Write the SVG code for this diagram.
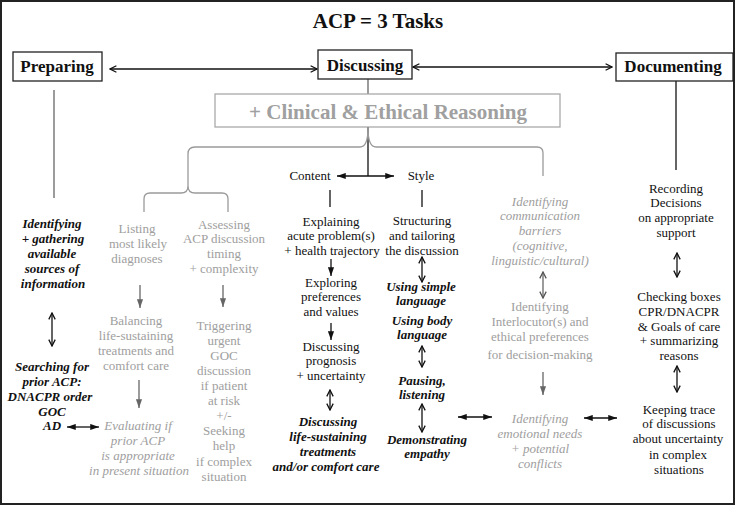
<svg xmlns="http://www.w3.org/2000/svg" width="736" height="507" viewBox="0 0 736 507" font-family="Liberation Serif">
<defs>
<marker id="ob" viewBox="0 0 10 10" refX="9" refY="5" markerWidth="8" markerHeight="8" markerUnits="userSpaceOnUse" orient="auto-start-reverse"><path d="M1,1 L9,5 L1,9" fill="none" stroke="#111" stroke-width="1.6"/></marker>
<marker id="og" viewBox="0 0 10 10" refX="9" refY="5" markerWidth="8" markerHeight="8" markerUnits="userSpaceOnUse" orient="auto-start-reverse"><path d="M1,1 L9,5 L1,9" fill="none" stroke="#555" stroke-width="1.6"/></marker>
<marker id="fb" viewBox="0 0 10 8" refX="10" refY="4" markerWidth="9" markerHeight="7" markerUnits="userSpaceOnUse" orient="auto-start-reverse"><path d="M0,0.5 L10,4 L0,7.5 z" fill="#111"/></marker>
<marker id="fg" viewBox="0 0 10 8" refX="10" refY="4" markerWidth="9" markerHeight="7" markerUnits="userSpaceOnUse" orient="auto-start-reverse"><path d="M0,0.5 L10,4 L0,7.5 z" fill="#666"/></marker>
</defs>
<rect x="1" y="1" width="733" height="503" fill="#fff" stroke="#222" stroke-width="2"/>
<text x="378" y="28" font-family="Times New Roman" font-size="21" font-weight="bold" fill="#111" text-anchor="middle">ACP = 3 Tasks</text>

<g id="connectors" fill="none" stroke-width="1.3">
<g stroke="#111">
<line x1="110" y1="69" x2="317" y2="69" marker-start="url(#ob)" marker-end="url(#ob)"/>
<line x1="413" y1="67" x2="612" y2="67" marker-start="url(#ob)" marker-end="url(#ob)"/>
<line x1="368" y1="127" x2="368" y2="176"/>
<line x1="337" y1="176" x2="394" y2="176" marker-start="url(#fb)" marker-end="url(#fb)"/>
<line x1="676" y1="81" x2="676" y2="170"/>
<line x1="330" y1="190" x2="330" y2="207"/>
<line x1="422" y1="190" x2="422" y2="207"/>
<line x1="52" y1="313" x2="52" y2="346" marker-start="url(#ob)" marker-end="url(#ob)"/>
<line x1="330" y1="390" x2="330" y2="410" marker-start="url(#ob)" marker-end="url(#ob)"/>
<line x1="422" y1="257" x2="422" y2="282" marker-start="url(#ob)" marker-end="url(#ob)"/>
<line x1="422" y1="346" x2="422" y2="367" marker-start="url(#ob)" marker-end="url(#ob)"/>
<line x1="422" y1="404" x2="422" y2="432" marker-start="url(#ob)" marker-end="url(#ob)"/>
<line x1="677" y1="253" x2="677" y2="277" marker-start="url(#ob)" marker-end="url(#ob)"/>
<line x1="677" y1="366" x2="677" y2="392" marker-start="url(#ob)" marker-end="url(#ob)"/>
<line x1="67" y1="427" x2="99" y2="427" marker-start="url(#fb)" marker-end="url(#fb)"/>
<line x1="458" y1="417" x2="492" y2="417" marker-start="url(#fb)" marker-end="url(#fb)"/>
<line x1="584" y1="418" x2="617" y2="418" marker-start="url(#fb)" marker-end="url(#fb)"/>
<line x1="331" y1="259" x2="331" y2="276" marker-end="url(#fb)"/>
<line x1="331" y1="323" x2="331" y2="340" marker-end="url(#fb)"/>
</g>
<g stroke="#666">
<line x1="368" y1="79" x2="368" y2="94"/>
<line x1="54" y1="90" x2="54" y2="198"/>
<line x1="543" y1="272" x2="543" y2="298" marker-start="url(#og)" marker-end="url(#og)"/>
<line x1="140" y1="285" x2="140" y2="308" marker-end="url(#fg)"/>
<line x1="139" y1="380" x2="139" y2="408" marker-end="url(#fg)"/>
<line x1="223" y1="285" x2="223" y2="307" marker-end="url(#fg)"/>
<line x1="543" y1="372" x2="543" y2="395" marker-end="url(#fg)"/>
</g>
<g stroke="#9a9a9a">
<path d="M368,128 Q368,147 360,147 L195,147 Q188,147 188,154 L188,186 Q188,193 181,193 L150,193 Q144,193 144,199 L144,212 M188,186 Q188,193 195,193 L222,193 Q228,193 228,199 L228,212"/>
<path d="M368,128 Q368,147 376,147 L537,147 Q543,147 543,153 L543,176"/>
</g>
</g>

<g id="preparing"><rect x="13" y="52" width="89" height="29" fill="#fff" stroke="#222" stroke-width="1.3"/><text x="57" y="72" font-family="Times New Roman" font-size="17" font-weight="bold" fill="#111" text-anchor="middle">Preparing</text></g>
<g id="discussing"><rect x="318" y="50" width="94" height="29" fill="#fff" stroke="#222" stroke-width="1.3"/><text x="365" y="71" font-family="Times New Roman" font-size="17" font-weight="bold" fill="#111" text-anchor="middle">Discussing</text></g>
<g id="documenting"><rect x="616" y="53" width="117" height="28" fill="#fff" stroke="#222" stroke-width="1.3"/><text x="673" y="72" font-family="Times New Roman" font-size="17" font-weight="bold" fill="#111" text-anchor="middle">Documenting</text></g>
<g id="reasoning"><rect x="215" y="94" width="345" height="33" fill="#fff" stroke="#aaa" stroke-width="1.3"/><text x="388" y="119" font-family="Times New Roman" font-size="21" font-weight="bold" fill="#a0a0a0" text-anchor="middle">+ Clinical &amp; Ethical Reasoning</text></g>

<g font-size="13" text-anchor="middle" font-family="Times New Roman">
<g fill="#111">
<g id="content"><text x="310" y="180">Content</text></g>
<g id="style"><text x="421" y="180">Style</text></g>
<g id="explaining"><text x="331" y="226">Explaining</text><text x="331" y="240">acute problem(s)</text><text x="332" y="255">+ health trajectory</text></g>
<g id="exploring"><text x="331" y="287">Exploring</text><text x="331" y="301">preferences</text><text x="331" y="316">and values</text></g>
<g id="prognosis"><text x="331" y="351">Discussing</text><text x="331" y="365">prognosis</text><text x="331" y="380">+ uncertainty</text></g>
<g id="structuring"><text x="422" y="225">Structuring</text><text x="422" y="240">and tailoring</text><text x="422" y="255">the discussion</text></g>
<g id="recording"><text x="676" y="193">Recording</text><text x="676" y="207">Decisions</text><text x="676" y="222">on appropriate</text><text x="676" y="237">support</text></g>
<g id="checking"><text x="679" y="301">Checking boxes</text><text x="679" y="316">CPR/DNACPR</text><text x="679" y="331">&amp; Goals of care</text><text x="679" y="345">+ summarizing</text><text x="679" y="360">reasons</text></g>
<g id="keeping"><text x="679" y="414">Keeping trace</text><text x="679" y="428">of discussions</text><text x="678" y="443">about uncertainty</text><text x="678" y="459">in complex</text><text x="679" y="474">situations</text></g>
</g>
<g fill="#111" font-weight="bold" font-style="italic">
<g id="identifying-sources"><text x="52" y="228">Identifying</text><text x="53" y="243">+ gathering</text><text x="52" y="258">available</text><text x="52" y="273">sources of</text><text x="53" y="288">information</text></g>
<g id="searching-prior"><text x="52" y="371">Searching for</text><text x="52" y="386">prior ACP:</text><text x="50" y="401">DNACPR order</text><text x="52" y="416">GOC</text><text x="52" y="430">AD</text></g>
<g id="discussing-lst"><text x="328" y="426">Discussing</text><text x="328" y="441">life-sustaining</text><text x="328" y="456">treatments</text><text x="326" y="471">and/or comfort care</text></g>
<g id="simple-language"><text x="421" y="291">Using simple</text><text x="421" y="305">language</text></g>
<g id="body-language"><text x="422" y="325">Using body</text><text x="422" y="339">language</text></g>
<g id="pausing"><text x="422" y="385">Pausing,</text><text x="422" y="399">listening</text></g>
<g id="empathy"><text x="427" y="444">Demonstrating</text><text x="427" y="458">empathy</text></g>
</g>
<g fill="#9e9e9e">
<g id="listing"><text x="137" y="233">Listing</text><text x="138" y="248">most likely</text><text x="137" y="263">diagnoses</text></g>
<g id="balancing"><text x="136" y="325">Balancing</text><text x="136" y="340">life-sustaining</text><text x="136" y="355">treatments and</text><text x="136" y="370">comfort care</text></g>
<g id="assessing"><text x="224" y="229">Assessing</text><text x="224" y="243">ACP discussion</text><text x="224" y="258">timing</text><text x="224" y="273">+ complexity</text></g>
<g id="triggering"><text x="224" y="330">Triggering</text><text x="224" y="345">urgent</text><text x="224" y="360">GOC</text><text x="224" y="375">discussion</text><text x="224" y="390">if patient</text><text x="224" y="405">at risk</text><text x="224" y="420">+/-</text><text x="224" y="435">Seeking</text><text x="224" y="450">help</text><text x="224" y="466">if complex</text><text x="224" y="481">situation</text></g>
<g id="interlocutor"><text x="540" y="311">Identifying</text><text x="540" y="326">Interlocutor(s) and</text><text x="540" y="341">ethical preferences</text><text x="540" y="359">for decision-making</text></g>
</g>
<g fill="#9e9e9e" font-style="italic">
<g id="evaluating"><text x="138" y="430">Evaluating if</text><text x="138" y="445">prior ACP</text><text x="138" y="460">is appropriate</text><text x="139" y="475">in present situation</text></g>
<g id="barriers"><text x="540" y="206">Identifying</text><text x="540" y="220">communication</text><text x="540" y="235">barriers</text><text x="540" y="250">(cognitive,</text><text x="540" y="265">linguistic/cultural)</text></g>
<g id="emotional"><text x="540" y="423">Identifying</text><text x="540" y="438">emotional needs</text><text x="540" y="453">+ potential</text><text x="540" y="468">conflicts</text></g>
</g>
</g>
</svg>
